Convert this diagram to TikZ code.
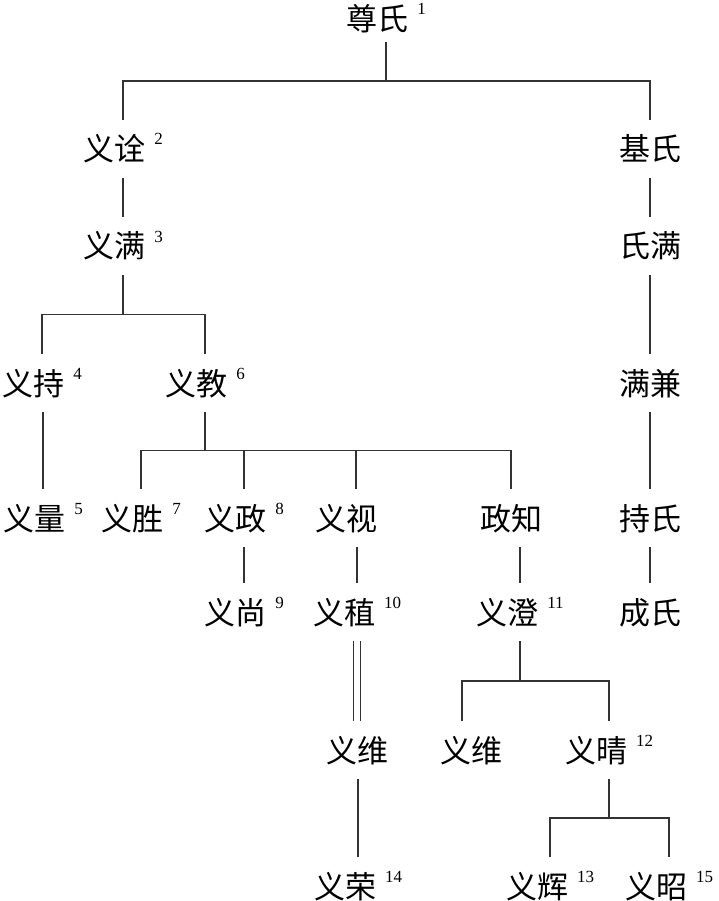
\documentclass[tikz,border=0pt]{standalone}
\usepackage{fontspec}
\newfontfamily\cjk{Noto Sans CJK SC}
\newfontfamily\supfont{Liberation Serif}
\usetikzlibrary{calc}
\tikzset{
  person/.style={inner sep=0pt, outer ysep=17pt, text height=24pt, text depth=0pt,
    font=\cjk\fontsize{31}{31}\selectfont, text=black},
  link/.style={draw=black!80, line width=1.1pt},
  dbl/.style={draw=black!80, line width=1pt, double=white, double distance=6pt}
}
\newcommand{\sn}[1]{\hspace{9pt}\raisebox{16pt}{\supfont\fontsize{17}{17}\selectfont #1}}
\begin{document}
\begin{tikzpicture}[x=1pt,y=-1pt]
\useasboundingbox[fill=white] (0,0) rectangle (718,901);
% row 0
\node[person, outer ysep=11pt] (zs) at (386,19) {尊氏\sn{1}};
% row 1
\node[person] (yq) at (123,149) {义诠\sn{2}};
\node[person] (js) at (650,149) {基氏};
% row 2
\node[person] (ym) at (123,246) {义满\sn{3}};
\node[person] (sm) at (650,246) {氏满};
% row 3
\node[person] (yc) at (42,383) {义持\sn{4}};
\node[person] (yj) at (205,383) {义教\sn{6}};
\node[person] (mj) at (650,383) {满兼};
% row 4
\node[person] (yl) at (43,518) {义量\sn{5}};
\node[person] (ys) at (141,518) {义胜\sn{7}};
\node[person] (yz) at (244,518) {义政\sn{8}};
\node[person] (ysh) at (356,518) {义视\hspace*{20pt}};
\node[person] (zz) at (511,518) {政知};
\node[person] (cs) at (650,518) {持氏};
% row 5
\node[person] (ysg) at (244,612) {义尚\sn{9}};
\node[person] (yzh) at (357,612) {义稙\sn{10}};
\node[person] (ych) at (520,612) {义澄\sn{11}};
\node[person] (cs2) at (650,612) {成氏};
% row 6
\node[person] (yw1) at (357,750) {义维};
\node[person] (yw2) at (462,750) {\hspace*{18pt}义维};
\node[person] (yqg) at (609,750) {义晴\sn{12}};
% row 7
\node[person] (yr) at (358,886) {义荣\sn{14}};
\node[person] (yh) at (550,886) {义辉\sn{13}};
\node[person] (yzo) at (669,886) {义昭\sn{15}};

% junctions
\coordinate (j1) at ($(zs.south)!0.5!(zs.south |- yq.north)$);
\coordinate (j2) at ($(ym.south)!0.5!(ym.south |- yc.north)$);
\coordinate (j3) at ($(yj.south)!0.5!(yj.south |- ys.north)$);
\coordinate (j4) at ($(ych.south)!0.5!(ych.south |- yqg.north)$);
\coordinate (j5) at ($(yqg.south)!0.5!(yqg.south |- yh.north)$);

% top split
\draw[link] (zs.south) -- (j1);
\draw[link] (yq.north) |- (j1) -| (js.north);
% left line
\draw[link] (ym.north) -- (ym.north |- yq.south);
\draw[link] (ym.south) -- (j2);
\draw[link] (yc.north) |- (j2) -| (yj.north);
\draw[link] (yl.north) -- (yl.north |- yc.south);
% 义教 children
\draw[link] (yj.south) -- (j3);
\draw[link] (ys.north) |- (j3) -| (zz.north);
\draw[link] (yz.north) -- (yz.north |- j3);
\draw[link] (ysh.north) -- (ysh.north |- j3);
% row 4 to row 5
\draw[link] (ysg.north) -- (ysg.north |- yz.south);
\draw[link] (yzh.north) -- (yzh.north |- ysh.south);
\draw[link] (ych.north) -- (ych.north |- zz.south);
% double line
\draw[dbl] (yw1.north) -- (yw1.north |- yzh.south);
\draw[link] (yr.north) -- (yr.north |- yw1.south);
% 义澄 children
\draw[link] (ych.south) -- (j4);
\draw[link] (yw2.north) |- (j4) -| (yqg.north);
% 义晴 children
\draw[link] (yqg.south) -- (j5);
\draw[link] (yh.north) |- (j5) -| (yzo.north);
% right column
\draw[link] (sm.north) -- (sm.north |- js.south);
\draw[link] (mj.north) -- (mj.north |- sm.south);
\draw[link] (cs.north) -- (cs.north |- mj.south);
\draw[link] (cs2.north) -- (cs2.north |- cs.south);
\end{tikzpicture}
\end{document}
